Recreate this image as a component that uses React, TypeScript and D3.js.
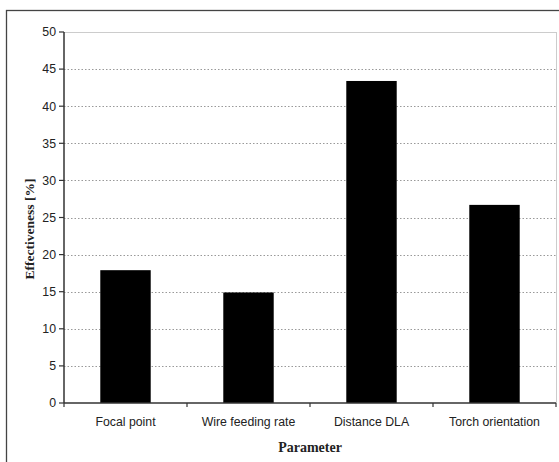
import React from "react";
import * as d3 from "d3";

const categories = ["Focal point", "Wire feeding rate", "Distance DLA", "Torch orientation"];
const values = [17.9, 14.9, 43.4, 26.7];
const yTicks = [0, 5, 10, 15, 20, 25, 30, 35, 40, 45, 50];

const W = 559;
const H = 462;
const left = 64;
const right = 556;
const top = 32;
const bottom = 403;

export default function App() {
  const x = d3.scaleBand<string>().domain(categories).range([left, right]).paddingInner(0.59).paddingOuter(0.295);
  const y = d3.scaleLinear().domain([0, 50]).range([bottom, top]);
  const step = x.step();
  const boundaries = d3.range(categories.length + 1).map((i) => left + i * step);
  return (
    <svg width={W} height={H} style={{ position: "absolute", left: 0, top: 0, background: "#fff" }}>
      <rect x={0} y={0} width={W} height={H} fill="#fff" />
      <rect x={6.5} y={10.5} width={W} height={H} fill="none" stroke="#444" strokeWidth={1.3} />
      {/* plot border */}
      <line x1={left} x2={right} y1={top + 0.5} y2={top + 0.5} stroke="#ccc" strokeWidth={1} />
      <line x1={right + 0.5} x2={right + 0.5} y1={top} y2={bottom} stroke="#ccc" strokeWidth={1} />
      {/* gridlines */}
      {yTicks.filter((t) => t > 0 && t < 50).map((t) => (
        <line key={t} x1={left} x2={right} y1={Math.round(y(t)) + 0.5} y2={Math.round(y(t)) + 0.5}
          stroke="#999" strokeWidth={1} strokeDasharray="1.5,2" />
      ))}
      {/* bars */}
      {categories.map((c, i) => (
        <rect key={c} x={x(c)} y={y(values[i])} width={x.bandwidth()} height={y(0) - y(values[i])} fill="#000" />
      ))}
      {/* y axis */}
      <line x1={left} x2={left} y1={top} y2={bottom} stroke="#333" strokeWidth={1.5} />
      {yTicks.map((t) => (
        <g key={t}>
          <line x1={left - 5} x2={left} y1={y(t)} y2={y(t)} stroke="#333" strokeWidth={1.2} />
          <text x={left - 8} y={y(t)} dy="0.35em" textAnchor="end" fontFamily="Liberation Sans, Arial, sans-serif"
            fontSize={12.3} fill="#222">{t}</text>
        </g>
      ))}
      {/* x axis */}
      <line x1={left} x2={right} y1={bottom} y2={bottom} stroke="#333" strokeWidth={1.5} />
      {boundaries.map((b, i) => (
        <line key={i} x1={b} x2={b} y1={bottom} y2={bottom + 4} stroke="#333" strokeWidth={1.2} />
      ))}
      {categories.map((c) => (
        <text key={c} x={(x(c) as number) + x.bandwidth() / 2} y={426} textAnchor="middle"
          fontFamily="Liberation Sans, Arial, sans-serif" fontSize={12.3} fill="#222">{c}</text>
      ))}
      <text x={(left + right) / 2} y={452} textAnchor="middle" fontFamily="Liberation Serif, Times New Roman, serif"
        fontWeight="bold" fontSize={14} fill="#222">Parameter</text>
      <text transform={`translate(34,229) rotate(-90)`} textAnchor="middle"
        fontFamily="Liberation Serif, Times New Roman, serif" fontWeight="bold" fontSize={13.5} fill="#222">Effectiveness [%]</text>
    </svg>
  );
}
